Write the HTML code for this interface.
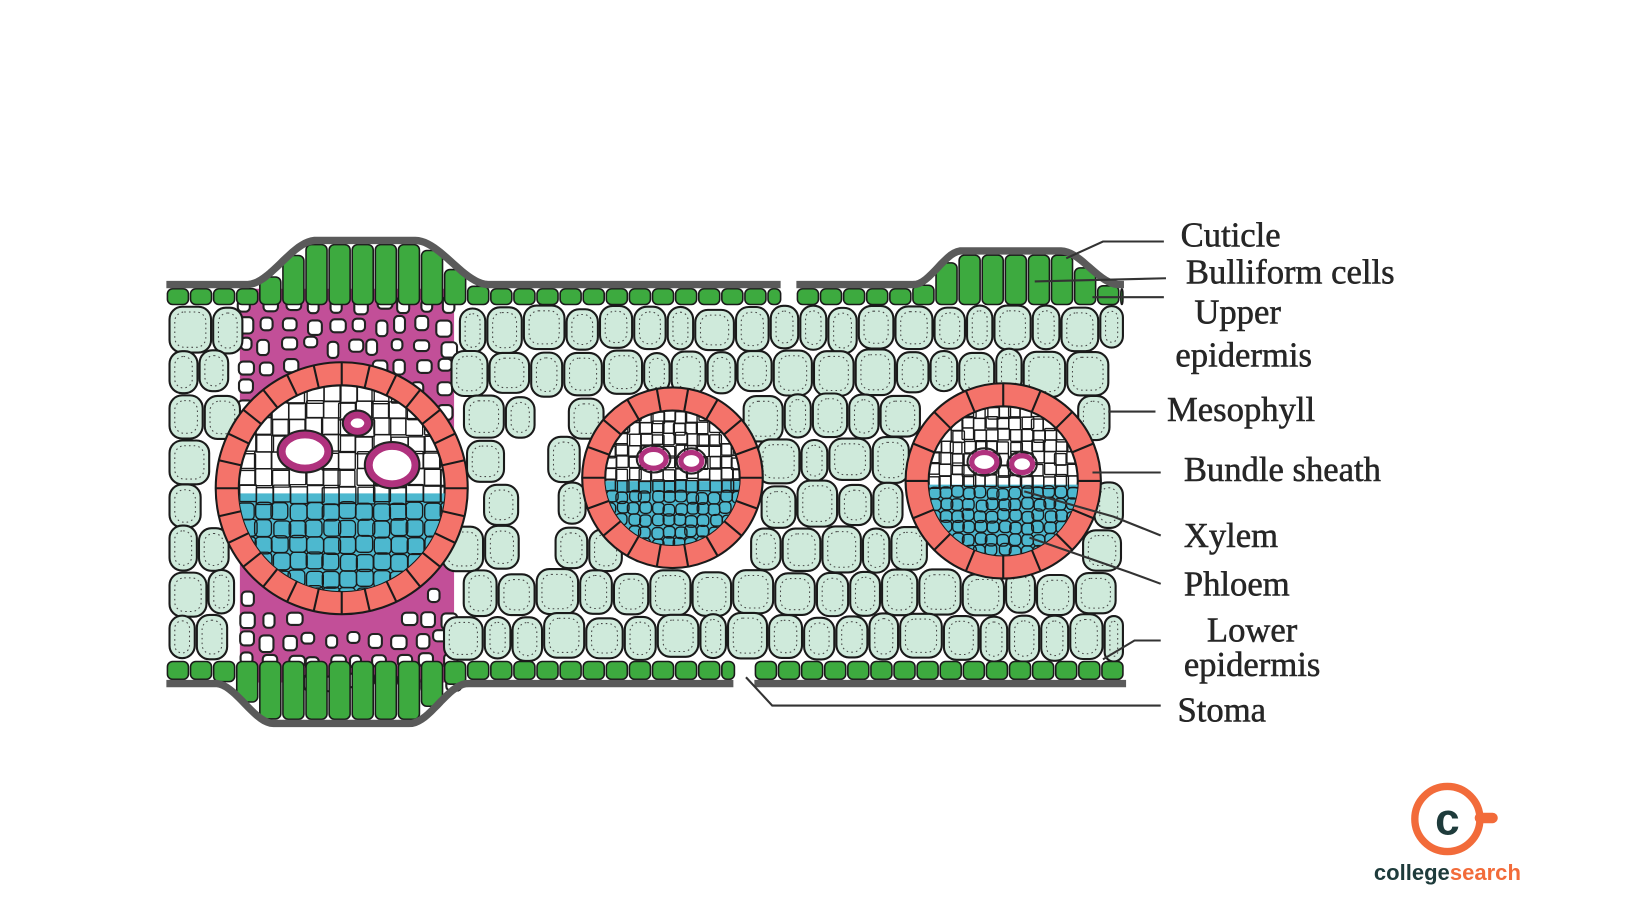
<!DOCTYPE html>
<html><head><meta charset="utf-8"><style>
html,body{margin:0;padding:0;background:#fff;width:1640px;height:924px;overflow:hidden}
svg{display:block}
text{font-family:"Liberation Serif",serif;fill:#262626}
</style></head><body>
<svg id="s" width="1640" height="924" viewBox="0 0 1561 880" xmlns="http://www.w3.org/2000/svg">
<rect width="1561" height="880" fill="#fff"/>
<g id="meso"></g>
<g id="bund"></g>
<g id="epi"></g>
<g stroke="#333" stroke-width="2" fill="none">
<polyline points="1015,246 1050,230 1108,230"/>
<polyline points="985,268 1110,265"/>
<polyline points="1040,283 1108,283"/>
<polyline points="1055,392 1100,392"/>
<polyline points="1040,450 1105,450"/>
<polyline points="975,468 1060,492 1105,510"/>
<polyline points="980,512 1075,545 1105,556"/>
<polyline points="1050,628 1080,610 1105,610"/>
<polyline points="710,645 735,672 1105,672"/>
</g>
<g font-size="33" stroke="#262626" stroke-width="0.5">
<text x="1124" y="235">Cuticle</text>
<text x="1129" y="270">Bulliform cells</text>
<text x="1137" y="308">Upper</text>
<text x="1119" y="349">epidermis</text>
<text x="1111" y="401">Mesophyll</text>
<text x="1127" y="458">Bundle sheath</text>
<text x="1127" y="521">Xylem</text>
<text x="1127" y="567">Phloem</text>
<text x="1149" y="611">Lower</text>
<text x="1127" y="644">epidermis</text>
<text x="1121" y="687">Stoma</text>
</g>
<circle cx="1378" cy="780" r="31" fill="none" stroke="#f26b3a" stroke-width="7"/>
<line x1="1409" y1="779" x2="1421" y2="779" stroke="#f26b3a" stroke-width="10" stroke-linecap="round"/>
<text x="1378" y="795" text-anchor="middle" style="font-family:'Liberation Sans',sans-serif;font-weight:bold;fill:#1e3b3b" font-size="42">c</text>
<text x="1378" y="838" text-anchor="middle" style="font-family:'Liberation Sans',sans-serif;font-size:21px;font-weight:bold"><tspan style="fill:#1e3b3b">college</tspan><tspan style="fill:#f26b3a">search</tspan></text>
</svg>
<script>
(function(){
var NS="http://www.w3.org/2000/svg";
function el(g,t,a){var e=document.createElementNS(NS,t);for(var k in a)e.setAttribute(k,a[k]);g.appendChild(e);return e;}
var seed=7;function rnd(){seed=(seed*16807)%2147483647;return seed/2147483647;}
var B=[{x:325,y:465,r:120},{x:640,y:455,r:86},{x:955,y:458,r:93}];
function inB(x,y,m){for(var i=0;i<B.length;i++){var b=B[i];if(Math.hypot(x-b.x,y-b.y)<b.r+m)return true;}return false;}
var meso=document.getElementById('meso');
el(meso,'path',{d:"M228,275 L432,275 L432,650 L228,650 Z",fill:"#c24f98"});
for(var y=280;y<650;y+=20){for(var x=232;x<430;x+=18+rnd()*6){var cx=x+rnd()*4,cy=y+rnd()*6;if(inB(cx,cy,4))continue;
el(meso,'rect',{x:cx-6,y:cy,width:10+rnd()*5,height:10+rnd()*6,rx:4,fill:"#fff",stroke:"#222","stroke-width":2});}}
for(var ry=292;ry<628;ry+=42){var x=160;while(x<1068){var w=26+rnd()*16;var cx=x+w/2,cy=ry+21+(rnd()-0.5)*4;var h=38+rnd()*6;
var skip=false;
if(cx>228&&cx<432)skip=true;
if(inB(cx,cy,6))skip=true;
if(cx>496&&cx<526&&cy>370&&cy<560)skip=true;
if(cx>716&&cx<740&&cy>575)skip=true;
if(cx+w/2>1070)w=1070-x;
if(!skip&&w>14){var y0=Math.max(cy-h/2,291),y1=Math.min(cy+h/2,630);
el(meso,'rect',{x:x+1,y:y0,width:w-2,height:y1-y0,rx:Math.min(w/2-1,12),fill:"#cfeadb",stroke:"#1a1a1a","stroke-width":2});
el(meso,'rect',{x:x+6,y:y0+5,width:Math.max(w-12,2),height:y1-y0-10,rx:Math.max(1,Math.min(w/2-6,9)),fill:"none",stroke:"#444","stroke-width":1,"stroke-dasharray":"1.5 3"});}
x+=w;}}
var bund=document.getElementById('bund');
B.forEach(function(b,bi){
var inner=b.r-22;
el(bund,'circle',{cx:b.x,cy:b.y,r:b.r,fill:"#f4736a",stroke:"#1a1a1a","stroke-width":2});
var cid='c'+bi;var cp=el(bund,'clipPath',{id:cid});el(cp,'circle',{cx:b.x,cy:b.y,r:inner});
el(bund,'circle',{cx:b.x,cy:b.y,r:inner,fill:"#fff",stroke:"#1a1a1a","stroke-width":2});
var g=el(bund,'g',{'clip-path':'url(#'+cid+')'});
el(g,'rect',{x:b.x-b.r,y:b.y+inner*0.05,width:2*b.r,height:b.r,fill:"#4db8cf"});
var s=b.r>100?16:11;
for(var yy=b.y-inner;yy<b.y+inner;yy+=s){for(var xx=b.x-inner;xx<b.x+inner;xx+=s){
var blue=yy>b.y+inner*0.05;
el(g,'rect',{x:xx+(rnd()-0.5)*3,y:yy+(rnd()-0.5)*3,width:s,height:s,rx:blue?4:1,fill:"none",stroke:"#1a1a1a","stroke-width":1.3});}}
var n=b.r>100?28:b.r>90?16:18;
for(var i=0;i<n;i++){var a=i*2*Math.PI/n;el(bund,'line',{x1:b.x+inner*Math.cos(a),y1:b.y+inner*Math.sin(a),x2:b.x+b.r*Math.cos(a),y2:b.y+b.r*Math.sin(a),stroke:"#1a1a1a","stroke-width":2});}
var v=b.r>100?[[-35,-35,22,16],[48,-22,22,18],[15,-62,10,8]]:[[-18,-18,12,9],[18,-16,10,8]];
v.forEach(function(p){el(bund,'ellipse',{cx:b.x+p[0],cy:b.y+p[1],rx:p[2],ry:p[3],fill:"#fff",stroke:"#b0327e","stroke-width":b.r>100?7:5});
el(bund,'ellipse',{cx:b.x+p[0],cy:b.y+p[1],rx:p[2]+4,ry:p[3]+4,fill:"none",stroke:"#222","stroke-width":2});});
});
var epi=document.getElementById('epi');
function sm(t){t=Math.max(0,Math.min(1,t));return t*t*(3-2*t);}
function plat(x,a,b,c,d,h){if(x<a||x>d)return 0;if(x<b)return h*sm((x-a)/(b-a));if(x>c)return h*sm((d-x)/(d-c));return h;}
function topY(x){return 272-Math.max(plat(x,235,300,395,465,42),plat(x,870,915,1010,1065,32));}
function botY(x){return 650+plat(x,205,260,390,445,38);}
function seg(f,x0,x1){var d="";for(var x=x0;x<=x1;x+=3){d+=(x==x0?"M":"L")+x+","+f(x).toFixed(1)+" ";}return d;}
[[158,744],[758,1070]].forEach(function(r){
for(var x=r[0];x<r[1];x+=22){var w=Math.min(22,r[1]-x);var t=topY(x+w/2)+3;
el(epi,'rect',{x:x+1,y:t,width:w-2,height:290-t,rx:5,fill:"#3daa3f",stroke:"#1a1a1a","stroke-width":1.5});}
el(epi,'path',{d:seg(function(x){return topY(x)-1;},r[0],r[1]),fill:"none",stroke:"#5a5a5a","stroke-width":7});
});
[[158,700],[718,1072]].forEach(function(r){
for(var x=r[0];x<r[1];x+=22){var w=Math.min(22,r[1]-x);var b=botY(x+w/2)-3;
el(epi,'rect',{x:x+1,y:630,width:w-2,height:b-630,rx:5,fill:"#3daa3f",stroke:"#1a1a1a","stroke-width":1.5});}
el(epi,'path',{d:seg(function(x){return botY(x)+1;},r[0],r[1]),fill:"none",stroke:"#5a5a5a","stroke-width":7});
});
})();
</script>
</body></html>
